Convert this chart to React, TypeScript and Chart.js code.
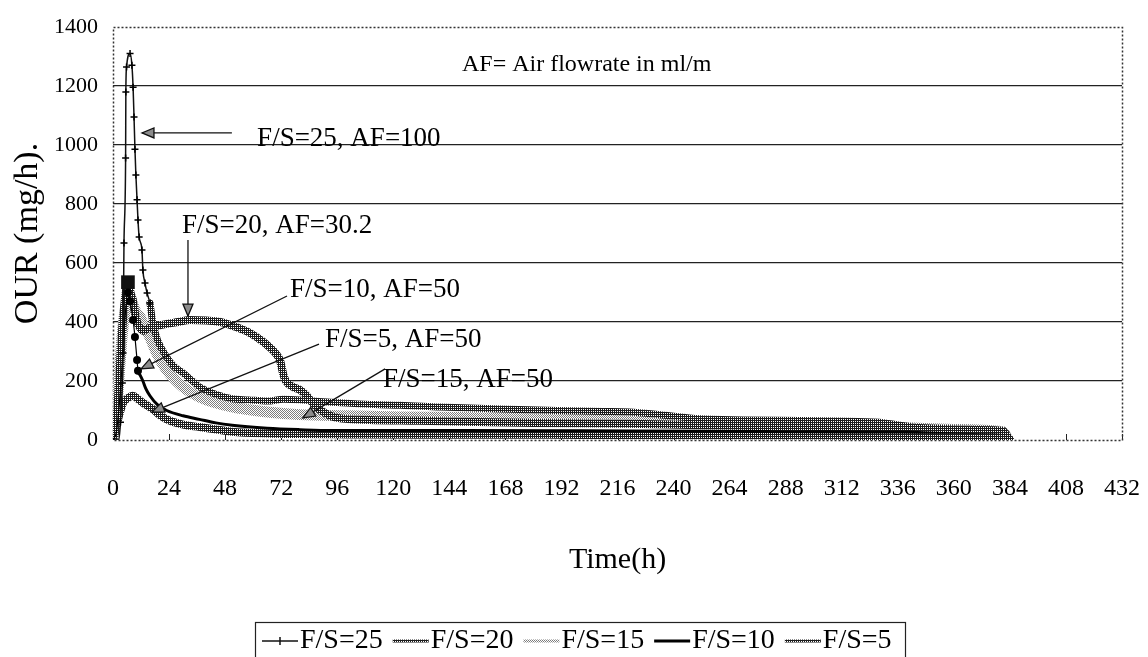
import React, { useEffect, useRef } from "react";
import { Chart, registerables } from "chart.js";

Chart.register(...registerables);

// ---------- data ----------
const X_MAX = 432;
const X_STEP = 24;
const Y_MAX = 1400;
const Y_STEP = 200;

const SERIES_LABELS = ["F/S=25", "F/S=20", "F/S=15", "F/S=10", "F/S=5"];

const T_FS25 = [0, 2.5, 3.2, 4.0, 4.3, 4.7, 5.4, 5.5, 5.8, 7.3, 8.1, 8.6, 9.0, 9.4, 9.8, 10.3, 10.7, 11.2, 12.4, 12.8, 13.7, 14.6, 15.8, 17, 19, 23, 26, 30, 34, 37, 44, 51, 58, 66, 73, 80, 90, 100, 112, 123, 140, 166, 190, 210, 221, 235, 251, 270, 294, 310, 328, 337, 345, 360, 372, 381, 384];
const V_FS25 = [0, 0, 60, 193, 295, 668, 956, 1180, 1264, 1310, 1270, 1196, 1095, 986, 898, 814, 746, 688, 644, 576, 532, 498, 464, 400, 340, 281, 250, 227, 200, 180, 155, 140, 136, 132, 138, 136, 130, 125, 120, 118, 112, 105, 100, 97, 95, 85, 72, 68, 66, 64, 60, 50, 42, 38, 35, 32, 5];

const T_FS20 = [0, 1, 2, 3, 4, 5, 6.4, 7.5, 8.6, 9.4, 10.3, 11.6, 13, 15, 18, 22, 28, 33, 40, 46, 52, 58.6, 64, 67, 70, 71.5, 73, 74, 77, 80, 83, 86, 90, 96, 110, 130, 150, 180, 221, 251, 294, 320, 337, 360, 381, 383];
const V_FS20 = [0, 40, 120, 250, 380, 470, 535, 500, 470, 430, 400, 380, 370, 378, 385, 392, 400, 407, 405, 400, 385, 363, 335, 315, 290, 270, 220, 200, 180, 170, 150, 120, 95, 75, 68, 65, 62, 58, 55, 50, 45, 42, 40, 35, 30, 3];

const T_FS15 = [0, 1, 2, 3, 4, 5, 6, 7.3, 8.5, 10, 11.6, 13, 15.8, 19, 23, 30, 37, 51, 66, 80, 100, 123, 166, 221, 251, 294, 337, 360, 381, 383];
const V_FS15 = [0, 60, 150, 260, 360, 430, 470, 485, 460, 430, 417, 390, 349, 290, 237, 180, 146, 112, 95, 86, 82, 78, 75, 70, 62, 52, 42, 36, 28, 3];

const T_FS10 = [0, 1.5, 3, 4.5, 5.5, 6.4, 7.3, 8.6, 9.4, 10.3, 10.7, 11.6, 12.8, 14, 15.8, 19, 23, 30, 37, 44, 51, 66, 80, 94, 150, 200, 250, 300, 337, 360, 381, 384];
const V_FS10 = [0, 30, 150, 330, 450, 500, 470, 407, 349, 271, 235, 220, 200, 175, 150, 120, 100, 82, 70, 58, 50, 40, 35, 32, 32, 31, 30, 28, 27, 26, 25, 2];

const T_FS5 = [0, 1, 2.5, 4.3, 6, 8.6, 10.5, 13, 17, 20, 23, 30, 37, 45, 51, 66, 80, 100, 130, 166, 200, 250, 300, 337, 360, 381, 384];
const V_FS5 = [0, 30, 80, 125, 140, 150, 140, 125, 105, 85, 70, 52, 44, 35, 28, 22, 20, 19, 18, 18, 17, 16, 15, 13, 12, 10, 1];

const Y_TITLE = "OUR (mg/h).";
const X_TITLE = "Time(h)";
const NOTE_AF = "AF= Air flowrate in ml/m";
const NOTE_25 = "F/S=25, AF=100";
const NOTE_20 = "F/S=20, AF=30.2";
const NOTE_10 = "F/S=10, AF=50";
const NOTE_5 = "F/S=5, AF=50";
const NOTE_15 = "F/S=15, AF=50";

const FONT = '"Liberation Serif", "Times New Roman", serif';

function zip(t: number[], v: number[]) {
  return t.map((x, i) => ({ x, y: v[i] }));
}

function makePattern(size: number, fg: string, bg: string, on: (x: number, y: number) => boolean) {
  const c = document.createElement("canvas");
  c.width = size;
  c.height = size;
  const g = c.getContext("2d") as CanvasRenderingContext2D;
  g.fillStyle = bg;
  g.fillRect(0, 0, size, size);
  g.fillStyle = fg;
  for (let y = 0; y < size; y++) for (let x = 0; x < size; x++) if (on(x, y)) g.fillRect(x, y, 1, 1);
  return g.createPattern(c, "repeat") as CanvasPattern;
}

function arrow(ctx: CanvasRenderingContext2D, x1: number, y1: number, x2: number, y2: number) {
  ctx.beginPath();
  ctx.moveTo(x1, y1);
  ctx.lineTo(x2, y2);
  ctx.strokeStyle = "#111";
  ctx.lineWidth = 1.3;
  ctx.stroke();
  const a = Math.atan2(y2 - y1, x2 - x1);
  const L = 12;
  const W = 5;
  const bx = x2 - L * Math.cos(a);
  const by = y2 - L * Math.sin(a);
  ctx.beginPath();
  ctx.moveTo(x2, y2);
  ctx.lineTo(bx + W * Math.sin(a), by - W * Math.cos(a));
  ctx.lineTo(bx - W * Math.sin(a), by + W * Math.cos(a));
  ctx.closePath();
  ctx.fillStyle = "#8c8c8c";
  ctx.fill();
  ctx.stroke();
}

export default function App() {
  const ref = useRef<HTMLCanvasElement | null>(null);

  useEffect(() => {
    const canvas = ref.current;
    if (!canvas) return;
    const dark = makePattern(4, "#1c1c1c", "#ffffff", (x, y) => !(x % 2 === 1 && y % 2 === 1));
    const light = makePattern(2, "#7c7c7c", "#ffffff", (x, y) => (x + y) % 2 === 0);

    const styles: any[] = [
      { kind: "thin", color: "#111" },
      { kind: "band", color: dark },
      { kind: "band", color: light },
      { kind: "solid", color: "#000" },
      { kind: "band", color: dark },
    ];

    const framePlugin = {
      id: "frameAndNotes",
      beforeDatasetsDraw(chart: any) {
        const { ctx, chartArea: a, scales } = chart;
        const xs = scales.x;
        ctx.save();
        ctx.strokeStyle = "#222";
        ctx.lineWidth = 1;
        xs.ticks.forEach((t: any) => {
          const x = Math.round(xs.getPixelForValue(t.value)) + 0.5;
          ctx.beginPath();
          ctx.moveTo(x, a.bottom);
          ctx.lineTo(x, a.bottom - 6);
          ctx.stroke();
        });
        ctx.setLineDash([2, 2]);
        ctx.lineWidth = 1.5;
        ctx.strokeStyle = "#333";
        ctx.strokeRect(Math.round(a.left) + 0.5, Math.round(a.top) + 0.5, Math.round(a.width), Math.round(a.height));
        ctx.restore();
      },
      afterDraw(chart: any) {
        const { ctx, scales } = chart;
        const px = (h: number) => scales.x.getPixelForValue(h);
        const py = (v: number) => scales.y.getPixelForValue(v);
        ctx.save();
        ctx.fillStyle = "#000";
        ctx.textBaseline = "middle";
        ctx.textAlign = "left";
        ctx.font = `24px ${FONT}`;
        ctx.fillText(NOTE_AF, px(149.4), py(1271));
        ctx.font = `27px ${FONT}`;
        const notes: [string, number, number, number, number, number, number][] = [
          [NOTE_25, 61.7, 1020, 50.9, 1041, 12.4, 1041],
          [NOTE_20, 29.5, 725, 32.1, 678, 32.1, 420],
          [NOTE_10, 75.8, 508, 74.5, 488, 12.0, 241],
          [NOTE_5, 90.8, 339, 88.2, 325, 16.7, 95],
          [NOTE_15, 115.6, 203, 116.5, 241, 81.3, 75],
        ];
        notes.forEach(([txt, tx, ty, ax, ay, bx, by]) => {
          ctx.fillStyle = "#000";
          ctx.fillText(txt, px(tx), py(ty));
          arrow(ctx, px(ax), py(ay), px(bx), py(by));
        });

        // legend
        ctx.font = `28px ${FONT}`;
        const ly = 641;
        let x = 262;
        const boxLeft = 255;
        chart.data.datasets.forEach((ds: any, i: number) => {
          const st = styles[i];
          ctx.save();
          ctx.beginPath();
          ctx.moveTo(x, ly);
          ctx.lineTo(x + 36, ly);
          ctx.strokeStyle = st.color;
          ctx.lineWidth = st.kind === "thin" ? 1.5 : 3;
          ctx.stroke();
          if (st.kind === "thin") {
            ctx.beginPath();
            ctx.moveTo(x + 18, ly - 4);
            ctx.lineTo(x + 18, ly + 4);
            ctx.lineWidth = 1.5;
            ctx.stroke();
          }
          ctx.restore();
          ctx.fillStyle = "#000";
          ctx.fillText(ds.label, x + 38, ly);
          x += 38 + ctx.measureText(ds.label).width + 10;
        });
        const boxRight = Math.max(x - 2, 905);
        ctx.strokeStyle = "#222";
        ctx.lineWidth = 1.2;
        ctx.strokeRect(boxLeft + 0.5, 622.5, boxRight - boxLeft, 44);
        ctx.restore();
      },
    };

    const seriesData = [
      zip(T_FS25, V_FS25),
      zip(T_FS20, V_FS20),
      zip(T_FS15, V_FS15),
      zip(T_FS10, V_FS10),
      zip(T_FS5, V_FS5),
    ];

    const datasets: any[] = [
      {
        label: SERIES_LABELS[0],
        data: seriesData[0],
        order: 0,
        borderColor: "#111",
        borderWidth: 1.5,
        segment: {
          borderColor: (c: any) => (c.p0.parsed.x >= 15.8 ? dark : "#111"),
          borderWidth: (c: any) => (c.p0.parsed.x >= 15.8 ? 7 : 1.5),
        },
        pointStyle: "cross",
        pointRadius: (c: any) => (c.raw && c.raw.x > 3 && c.raw.x < 16 ? 3.5 : 0),
        pointBorderColor: "#000",
        pointBorderWidth: 1.5,
      },
      {
        label: SERIES_LABELS[1],
        data: seriesData[1],
        order: 2,
        borderColor: dark,
        borderWidth: 8,
        pointStyle: "rect",
        pointRadius: (c: any) => (c.raw && c.raw.x === 6.4 ? 4 : 0),
        pointBackgroundColor: "#999",
        pointBorderColor: "#111",
      },
      {
        label: SERIES_LABELS[2],
        data: seriesData[2],
        order: 4,
        borderColor: light,
        borderWidth: 11,
        pointRadius: 0,
      },
      {
        label: SERIES_LABELS[3],
        data: seriesData[3],
        order: 1,
        borderColor: "#000",
        borderWidth: 3,
        segment: {
          borderWidth: (c: any) => (c.p0.parsed.x < 10.7 ? 1.2 : 3),
        },
        pointStyle: "circle",
        pointRadius: (c: any) => (c.raw && c.raw.x > 6 && c.raw.x < 10.8 ? 2.5 : 0),
        pointBackgroundColor: "#000",
        pointBorderColor: "#000",
      },
      {
        label: SERIES_LABELS[4],
        data: seriesData[4],
        order: 3,
        borderColor: dark,
        borderWidth: 8,
        pointRadius: 0,
      },
    ];
    datasets.forEach((d) => {
      d.fill = false;
      d.cubicInterpolationMode = "monotone";
      d.borderCapStyle = "round";
      d.borderJoinStyle = "round";
    });

    const chart = new Chart(canvas, {
      type: "line",
      data: { datasets },
      options: {
        animation: false,
        responsive: false,
        maintainAspectRatio: false,
        devicePixelRatio: 1,
        layout: { padding: { top: 27, right: 26, left: 0, bottom: 0 } },
        plugins: {
          legend: { display: false },
          tooltip: { enabled: false },
        },
        scales: {
          x: {
            type: "linear",
            min: 0,
            max: X_MAX,
            border: { display: false },
            grid: { display: false, drawTicks: false },
            ticks: {
              stepSize: X_STEP,
              autoSkip: false,
              maxRotation: 0,
              padding: 34,
              color: "#000",
              font: { family: FONT, size: 24 },
              callback: (v: any) => String(v),
            },
            title: {
              display: true,
              text: X_TITLE,
              color: "#000",
              font: { family: FONT, size: 30 },
              padding: { top: 0, bottom: 79 },
            },
            afterFit: (s: any) => {
              s.height = 217;
              s.paddingRight = 0;
              s.paddingLeft = 0;
            },
          },
          y: {
            type: "linear",
            min: 0,
            max: Y_MAX,
            border: { display: false },
            grid: {
              drawTicks: false,
              color: (c: any) => (c.tick && (c.tick.value === 0 || c.tick.value === Y_MAX) ? "rgba(0,0,0,0)" : "#222"),
              lineWidth: 1.2,
            },
            ticks: {
              stepSize: Y_STEP,
              padding: 15,
              color: "#000",
              font: { family: FONT, size: 22 },
              callback: (v: any) => String(v),
            },
            title: {
              display: true,
              text: Y_TITLE,
              color: "#000",
              font: { family: FONT, size: 34 },
              padding: { top: 8, bottom: 0 },
            },
            afterFit: (s: any) => {
              s.width = 113;
              s.paddingTop = 0;
              s.paddingBottom = 0;
            },
          },
        },
      } as any,
      plugins: [framePlugin],
    });
    return () => chart.destroy();
  }, []);

  return (
    <div style={{ position: "fixed", left: 0, top: 0, width: 1148, height: 657, background: "#fff" }}>
      <canvas ref={ref} width={1148} height={657} style={{ display: "block", width: 1148, height: 657 }} />
    </div>
  );
}
